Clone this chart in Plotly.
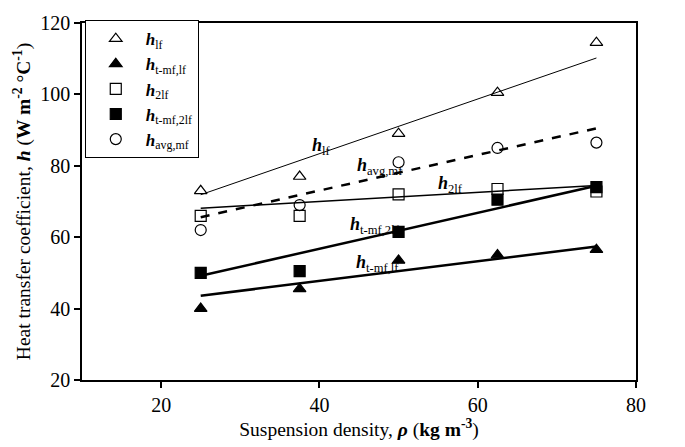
import plotly.graph_objects as go

# Data
density = [25, 37.5, 50, 62.5, 75]
h_lf = [73, 77, 89, 100.5, 114.5]
h_tmf_lf = [40, 45.5, 53.5, 55, 56.5]
h_2lf = [66, 66, 72, 73.5, 72.8]
h_tmf_2lf = [50, 50.5, 61.5, 70.5, 74]
h_avg_mf = [62, 69, 81, 85, 86.5]

# Fitted trend lines (end points)
fit_x = [25, 75]
fit_lf = [71.9, 110.2]
fit_avg = [65.6, 90.5]
fit_2lf = [68.1, 74.5]
fit_tmf_2lf = [49.2, 74.4]
fit_tmf_lf = [43.6, 57.4]

# Labels
lab_lf = "<b><i>h</i></b><sub>lf</sub>"
lab_tmf_lf = "<b><i>h</i></b><sub>t-mf,lf</sub>"
lab_2lf = "<b><i>h</i></b><sub>2lf</sub>"
lab_tmf_2lf = "<b><i>h</i></b><sub>t-mf,2lf</sub>"
lab_avg = "<b><i>h</i></b><sub>avg,mf</sub>"

FONT = "Liberation Serif, serif"

fig = go.Figure()

# fit lines
fig.add_trace(go.Scatter(x=fit_x, y=fit_lf, mode="lines", line=dict(color="black", width=1), showlegend=False))
fig.add_trace(go.Scatter(x=fit_x, y=fit_avg, mode="lines", line=dict(color="black", width=2.5, dash="dash"), showlegend=False))
fig.add_trace(go.Scatter(x=fit_x, y=fit_2lf, mode="lines", line=dict(color="black", width=1.5), showlegend=False))
fig.add_trace(go.Scatter(x=fit_x, y=fit_tmf_2lf, mode="lines", line=dict(color="black", width=2.5), showlegend=False))
fig.add_trace(go.Scatter(x=fit_x, y=fit_tmf_lf, mode="lines", line=dict(color="black", width=2.5), showlegend=False))

mk = dict(size=11, color="black", line=dict(color="black", width=1.2))
series = [
    (h_lf, lab_lf, "triangle-up-open"),
    (h_tmf_lf, lab_tmf_lf, "triangle-up"),
    (h_2lf, lab_2lf, "square-open"),
    (h_tmf_2lf, lab_tmf_2lf, "square"),
    (h_avg_mf, lab_avg, "circle-open"),
]
for ys, name, sym in series:
    fig.add_trace(go.Scatter(x=density, y=ys, mode="markers", name=name,
                             marker=dict(symbol=sym, **mk)))

# in-plot labels
ann = [
    (40.3, 85.3, lab_lf),
    (47.6, 79.8, lab_avg),
    (56.6, 74.7, lab_2lf),
    (47.0, 63.4, lab_tmf_2lf),
    (47.3, 52.5, lab_tmf_lf),
]
for x, y, t in ann:
    fig.add_annotation(x=x, y=y, text=t, showarrow=False, font=dict(family=FONT, size=18, color="black"))

axis_common = dict(showline=True, linecolor="black", linewidth=1.5, mirror=True,
                   ticks="outside", ticklen=6, tickwidth=1.5, tickcolor="black",
                   showgrid=False, zeroline=False,
                   tickfont=dict(family=FONT, size=20, color="black"))

fig.update_xaxes(range=[10, 80], tickvals=[20, 40, 60, 80],
                 title=dict(text="Suspension density, <b><i>ρ</i></b> (<b>kg m<sup>-3</sup></b>)",
                            font=dict(family=FONT, size=19.5, color="black"), standoff=6),
                 **axis_common)
fig.update_yaxes(range=[20, 120], tickvals=[20, 40, 60, 80, 100, 120],
                 title=dict(text="Heat transfer coefficient, <b><i>h</i></b> (<b>W m<sup>-2</sup> °C<sup>-1</sup></b>)",
                            font=dict(family=FONT, size=19.5, color="black"), standoff=4),
                 **axis_common)

fig.update_layout(
    width=685, height=447,
    margin=dict(l=82, r=49, t=16, b=65),
    plot_bgcolor="white", paper_bgcolor="white",
    font=dict(family=FONT, color="black"),
    legend=dict(x=0.005, y=1.008, xanchor="left", yanchor="top",
                bordercolor="black", borderwidth=1, bgcolor="white",
                font=dict(family=FONT, size=17, color="black"),
                itemwidth=50, tracegroupgap=0),
)

fig.write_html("out.html")
